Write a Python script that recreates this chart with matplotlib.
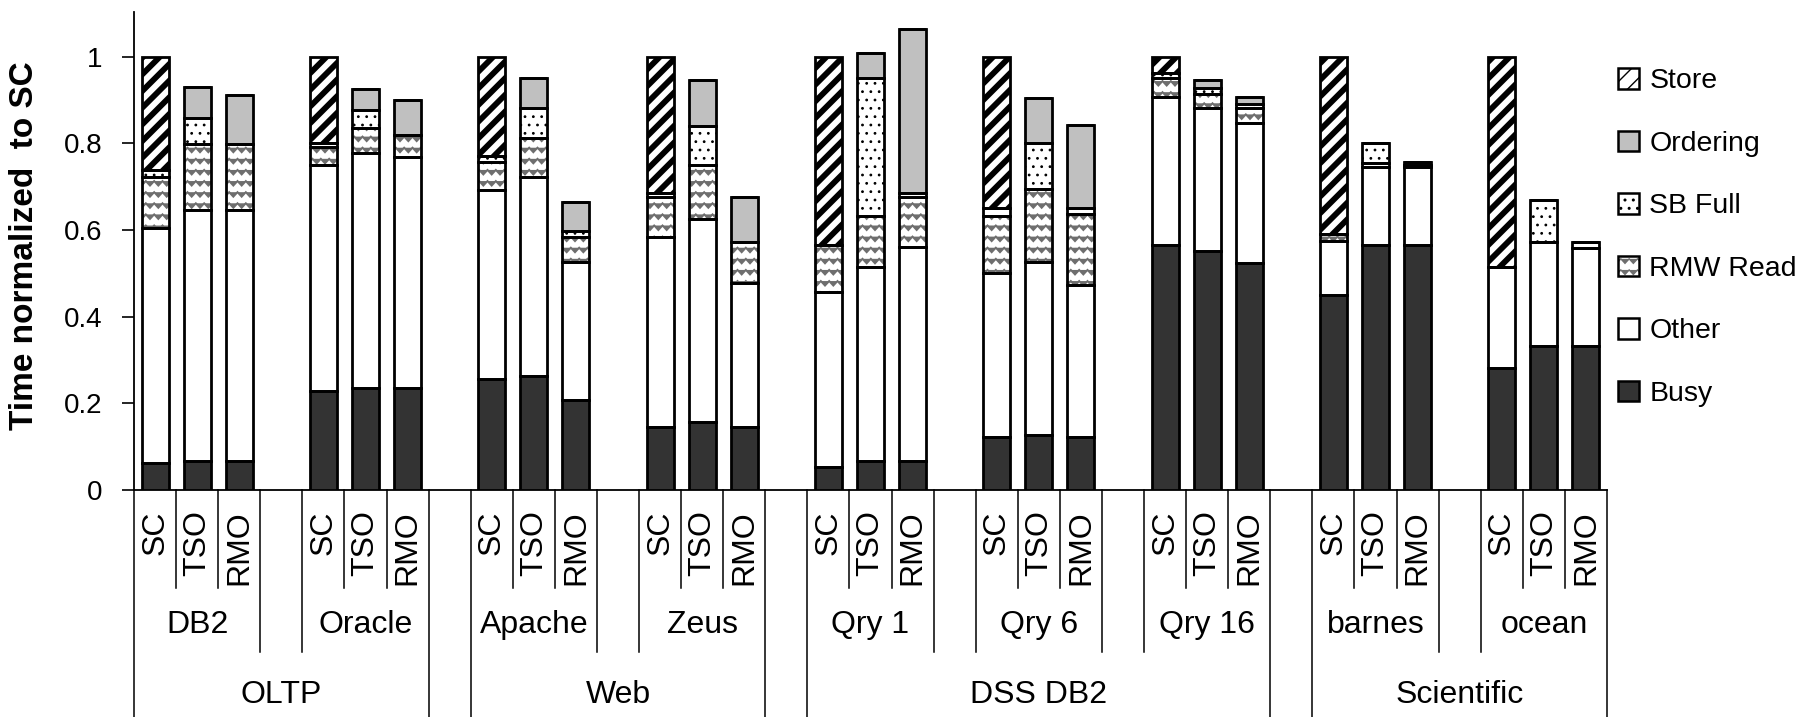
import numpy as np
import matplotlib
matplotlib.use('Agg')
import matplotlib.pyplot as plt
import matplotlib.hatch as mhatch
from matplotlib.path import Path
from matplotlib.patches import Patch

plt.rcParams['font.family'] = ['Liberation Sans', 'DejaVu Sans']

models = ['SC', 'TSO', 'RMO']
benchmarks = ['DB2', 'Oracle', 'Apache', 'Zeus', 'Qry 1', 'Qry 6', 'Qry 16', 'barnes', 'ocean']
groups = ['OLTP', 'Web', 'DSS DB2', 'Scientific']
group_sizes = [2, 2, 3, 2]

# one value per bar, order: benchmark x (SC, TSO, RMO)
busy = [.062, .067, .067, .228, .235, .235, .256, .262, .208, .146, .158, .146, .054, .067, .067,
        .123, .128, .123, .565, .552, .523, .45, .565, .565, .282, .332, .332]
other = [.542, .579, .579, .522, .542, .534, .436, .461, .319, .437, .467, .332, .404, .448, .495,
         .377, .399, .35, .343, .329, .325, .125, .18, .18, .233, .24, .226]
rmw_read = [.119, .152, .152, .042, .058, .05, .066, .089, .058, .094, .125, .095, .107, .117, .115,
            .132, .167, .165, .042, .034, .033, .015, .01, .006, 0, 0, 0]
sb_full = [.015, .06, 0, .008, .042, 0, .012, .069, .012, .008, .09, 0, 0, .318, .008,
           .018, .106, .012, .012, .012, .009, 0, .045, .007, 0, .097, .014]
ordering = [0, .073, .114, 0, .048, .081, 0, .069, .068, 0, .106, .104, 0, .058, .378,
            0, .104, .192, 0, .019, .016, 0, 0, 0, 0, 0, 0]
store = [.262, 0, 0, .2, 0, 0, .23, 0, 0, .315, 0, 0, .435, 0, 0,
         .35, 0, 0, .038, 0, 0, .41, 0, 0, .485, 0, 0]


# zigzag fill for "RMW Read" (takes the place of the 'O' hatch)
class ZigZagHatch(mhatch.HatchPatternBase):
    def __init__(self, hatch, density):
        self.rows = 9 if hatch.count('O') else 0
        self.teeth = 12
        self.pts = 2 * self.teeth + 3
        self.num_vertices = self.rows * self.pts

    def set_vertices_and_codes(self, vertices, codes):
        j = np.arange(-1, 2 * self.teeth + 2)
        xs = j / (2.0 * self.teeth)
        amp = 0.045
        for i in range(self.rows):
            y0 = (i + 0.3) / self.rows
            sl = slice(i * self.pts, (i + 1) * self.pts)
            vertices[sl, 0] = xs
            vertices[sl, 1] = y0 + amp * (j % 2)
            codes[sl] = Path.LINETO
            codes[i * self.pts] = Path.MOVETO


mhatch._hatch_types[mhatch._hatch_types.index(mhatch.LargeCircles)] = ZigZagHatch

# name, values, face colour, hatch, hatch colour, hatch linewidth
series = [('Busy', busy, '#333333', None, 'black', 1.0),
          ('Other', other, 'white', None, 'black', 1.0),
          ('RMW Read', rmw_read, 'white', 'O', '#6e6e6e', 1.4),
          ('SB Full', sb_full, 'white', '..', 'black', 0.8),
          ('Ordering', ordering, '#c0c0c0', None, 'black', 1.0),
          ('Store', store, 'white', '//', 'black', 4.2)]

fig = plt.figure(figsize=(18.05, 7.17), dpi=100)
ax = fig.add_axes([134/1805, 1-490/717, (1607-134)/1805, (490-11.7)/717])

# slot positions: 3 bars + 1 blank slot per benchmark
xpos = np.array([4*b + k for b in range(len(benchmarks)) for k in range(3)], dtype=float)

bottom = np.zeros(len(xpos))
handles = []
for name, vals, fc, hatch, hc, hlw in series:
    vals = np.array(vals)
    fill = ax.bar(xpos, vals, 0.64, bottom=bottom, color=fc, edgecolor=hc,
                  linewidth=0, hatch=hatch, zorder=3)
    ax.bar(xpos, vals, 0.64, bottom=bottom, fill=False, edgecolor='black',
           linewidth=2.0, zorder=4)
    for b in fill:
        if hasattr(b, 'set_hatch_linewidth'):
            b.set_hatch_linewidth(hlw)
    h1 = Patch(facecolor=fc, edgecolor=hc, linewidth=0, hatch=hatch)
    if hasattr(h1, 'set_hatch_linewidth'):
        h1.set_hatch_linewidth(min(hlw, 2.5))
    h2 = Patch(fill=False, edgecolor='black', linewidth=1.8)
    handles.append(((h1, h2), name))
    bottom += vals

ax.set_xlim(-0.5, 4*len(benchmarks) - 1.5)
ax.set_ylim(0, 1.104)
ax.set_yticks([0, 0.2, 0.4, 0.6, 0.8, 1.0])
ax.set_yticklabels(['0', '0.2', '0.4', '0.6', '0.8', '1'], fontsize=20)
ax.tick_params(axis='y', direction='out', length=8.5, width=1.2, pad=14)
ax.set_xticks([])
for s in ['top', 'right']:
    ax.spines[s].set_visible(False)
for s in ['left', 'bottom']:
    ax.spines[s].set_linewidth(1.3)
ax.set_ylabel('Time normalized  to SC', fontsize=24, fontweight='bold')
ax.yaxis.set_label_coords(-0.064, 0.51)

# hierarchical category axis below
tr = ax.get_xaxis_transform()
y_bar, y_bench, y_group = -0.205, -0.339, -0.474
group_edges = []
i = 0
for g, n in zip(groups, group_sizes):
    left = 4*i - 0.5
    right = 4*(i + n - 1) + 2.5
    group_edges.append((left, right))
    ax.text((left + right)/2, -0.428, g, transform=tr, ha='center', va='center', fontsize=23)
    i += n
edge_x = set(x for e in group_edges for x in e)

for b, name in enumerate(benchmarks):
    x0 = 4*b
    for k, m in enumerate(models):
        ax.text(x0 + k, -0.042, m, transform=tr, rotation=90, ha='center', va='top', fontsize=23)
    for xl in [x0 + 0.5, x0 + 1.5]:
        ax.plot([xl, xl], [0, y_bar], transform=tr, color='black', lw=1.1, clip_on=False)
    for xl in [x0 - 0.5, x0 + 2.5]:
        yb = y_group if xl in edge_x else y_bench
        ax.plot([xl, xl], [0, yb], transform=tr, color='black', lw=1.1, clip_on=False)
    ax.text(x0 + 1, -0.282, name, transform=tr, ha='center', va='center', fontsize=23)

handles = handles[::-1]
fig.legend([h for h, _ in handles], [n for _, n in handles], loc='upper left',
           bbox_to_anchor=(1618/1805, 1-68/717), frameon=False, fontsize=20.5,
           handlelength=0.75, handleheight=0.75, handletextpad=0.35,
           labelspacing=1.27, borderpad=0, borderaxespad=0)

fig.savefig('out.png', dpi=100)
